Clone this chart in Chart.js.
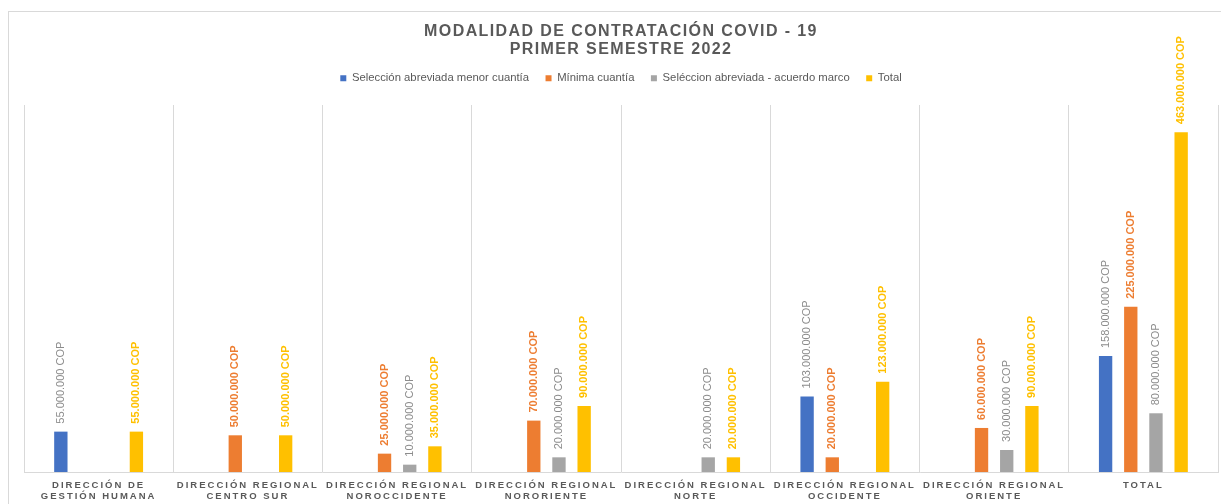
<!DOCTYPE html>
<html>
<head>
<meta charset="utf-8">
<script src="https://cdn.jsdelivr.net/npm/chart.js@4.4.1/dist/chart.umd.min.js"></script>
<style>
  html, body { margin: 0; padding: 0; background: #ffffff; }
  #wrap { position: relative; width: 1221px; height: 504px; }
</style>
</head>
<body>
<div id="wrap"><canvas id="c"></canvas></div>
<script>
const categories = [
  ['DIRECCIÓN DE', 'GESTIÓN HUMANA'],
  ['DIRECCIÓN REGIONAL', 'CENTRO SUR'],
  ['DIRECCIÓN REGIONAL', 'NOROCCIDENTE'],
  ['DIRECCIÓN REGIONAL', 'NORORIENTE'],
  ['DIRECCIÓN REGIONAL', 'NORTE'],
  ['DIRECCIÓN REGIONAL', 'OCCIDENTE'],
  ['DIRECCIÓN REGIONAL', 'ORIENTE'],
  ['TOTAL']
];
const seriesNames = [
  'Selección abreviada menor cuantía',
  'Mínima cuantía',
  'Seléccion abreviada - acuerdo marco',
  'Total'
];
const seleccionMenor = [55000000, null, null, null, null, 103000000, null, 158000000];
const minimaCuantia  = [null, 50000000, 25000000, 70000000, null, 20000000, 60000000, 225000000];
const acuerdoMarco   = [null, null, 10000000, 20000000, 20000000, null, 30000000, 80000000];
const totalValues    = [55000000, 50000000, 35000000, 90000000, 20000000, 123000000, 90000000, 463000000];
const titleLines = ['MODALIDAD DE CONTRATACIÓN COVID - 19', 'PRIMER SEMESTRE 2022'];

const barColors   = ['#4472C4', '#ED7D31', '#A5A5A5', '#FFC000'];
const labelColors = ['#8C8C8C', '#ED7D31', '#8C8C8C', '#FFC000'];
const labelBold   = [false, true, false, true];
const FONT = "'Liberation Sans', Arial, sans-serif";
const TEXT = '#595959';

function fmt(v) {
  return String(v).replace(/\B(?=(\d{3})+(?!\d))/g, '.') + ' COP';
}

function wrapLS(obj, method, ls, ctx) {
  const orig = obj[method];
  obj[method] = function (...args) {
    const prev = ctx.letterSpacing;
    ctx.letterSpacing = ls;
    try { return orig.apply(this, args); }
    finally { ctx.letterSpacing = prev; }
  };
}

const helperPlugin = {
  id: 'helper',
  afterLayout(chart) {
    const lg = chart.legend;
    if (lg) { lg.top -= 2; lg.bottom -= 2; }
  },
  beforeDraw(chart) {
    const ctx = chart.ctx;
    if (!chart.$lsPatched) {
      chart.$lsPatched = true;
      if (chart.titleBlock) wrapLS(chart.titleBlock, 'draw', '1.4px', ctx);
      if (chart.scales.x) wrapLS(chart.scales.x, 'drawLabels', '2px', ctx);
      if (chart.legend) wrapLS(chart.legend, 'draw', '0px', ctx);
    }
    ctx.save();
    ctx.strokeStyle = '#D9D9D9';
    ctx.lineWidth = 1;
    ctx.strokeRect(8.5, 11.5, 1400, 700);
    ctx.restore();
  },
  afterDatasetsDraw(chart) {
    const ctx = chart.ctx;
    chart.data.datasets.forEach((ds, di) => {
      const meta = chart.getDatasetMeta(di);
      meta.data.forEach((el, i) => {
        const v = ds.data[i];
        if (v === null || v === undefined) return;
        ctx.save();
        ctx.letterSpacing = '0px';
        ctx.translate(el.x, el.y - 8);
        ctx.rotate(-Math.PI / 2);
        ctx.font = (labelBold[di] ? 'bold ' : '') + '11px ' + FONT;
        ctx.fillStyle = labelColors[di];
        ctx.textAlign = 'left';
        ctx.textBaseline = 'middle';
        ctx.fillText(fmt(v), 0, 0);
        ctx.restore();
      });
    });
  }
};

const seriesData = [seleccionMenor, minimaCuantia, acuerdoMarco, totalValues];

new Chart(document.getElementById('c'), {
  type: 'bar',
  data: {
    labels: categories,
    datasets: seriesData.map((d, i) => ({
      label: seriesNames[i],
      data: d,
      backgroundColor: barColors[i],
      borderWidth: 0,
      categoryPercentage: 0.675,
      barPercentage: 0.53
    }))
  },
  options: {
    responsive: true,
    maintainAspectRatio: false,
    animation: false,
    layout: { padding: { left: 24, right: 3, top: 0, bottom: 0 } },
    plugins: {
      tooltip: { enabled: false },
      title: {
        display: true,
        text: titleLines,
        color: TEXT,
        font: { family: FONT, size: 16, weight: 'bold', lineHeight: 17.5 / 16 },
        padding: { top: 23, bottom: 0 }
      },
      legend: {
        display: true,
        position: 'top',
        weight: 1800,
        labels: {
          color: TEXT,
          font: { family: FONT, size: 11.3 },
          boxWidth: 6,
          boxHeight: 6,
          padding: 16.5
        }
      },
      subtitle: {
        display: true,
        text: '',
        font: { size: 1, lineHeight: 1 },
        padding: { top: 0, bottom: 8.2 }
      }
    },
    scales: {
      x: {
        grid: { display: true, color: '#D9D9D9', lineWidth: 1, drawTicks: false, tickLength: 0, offset: true },
        border: { display: true, color: '#D9D9D9' },
        ticks: {
          color: TEXT,
          font: { family: FONT, size: 9.5, weight: 'bold', lineHeight: 11 / 9.5 },
          padding: 7.8,
          autoSkip: false,
          maxRotation: 0,
          minRotation: 0
        },
        afterFit(scale) { scale.height = 32; }
      },
      y: {
        display: false,
        min: 0,
        max: 500000000
      }
    }
  },
  plugins: [helperPlugin]
});
</script>
</body>
</html>
